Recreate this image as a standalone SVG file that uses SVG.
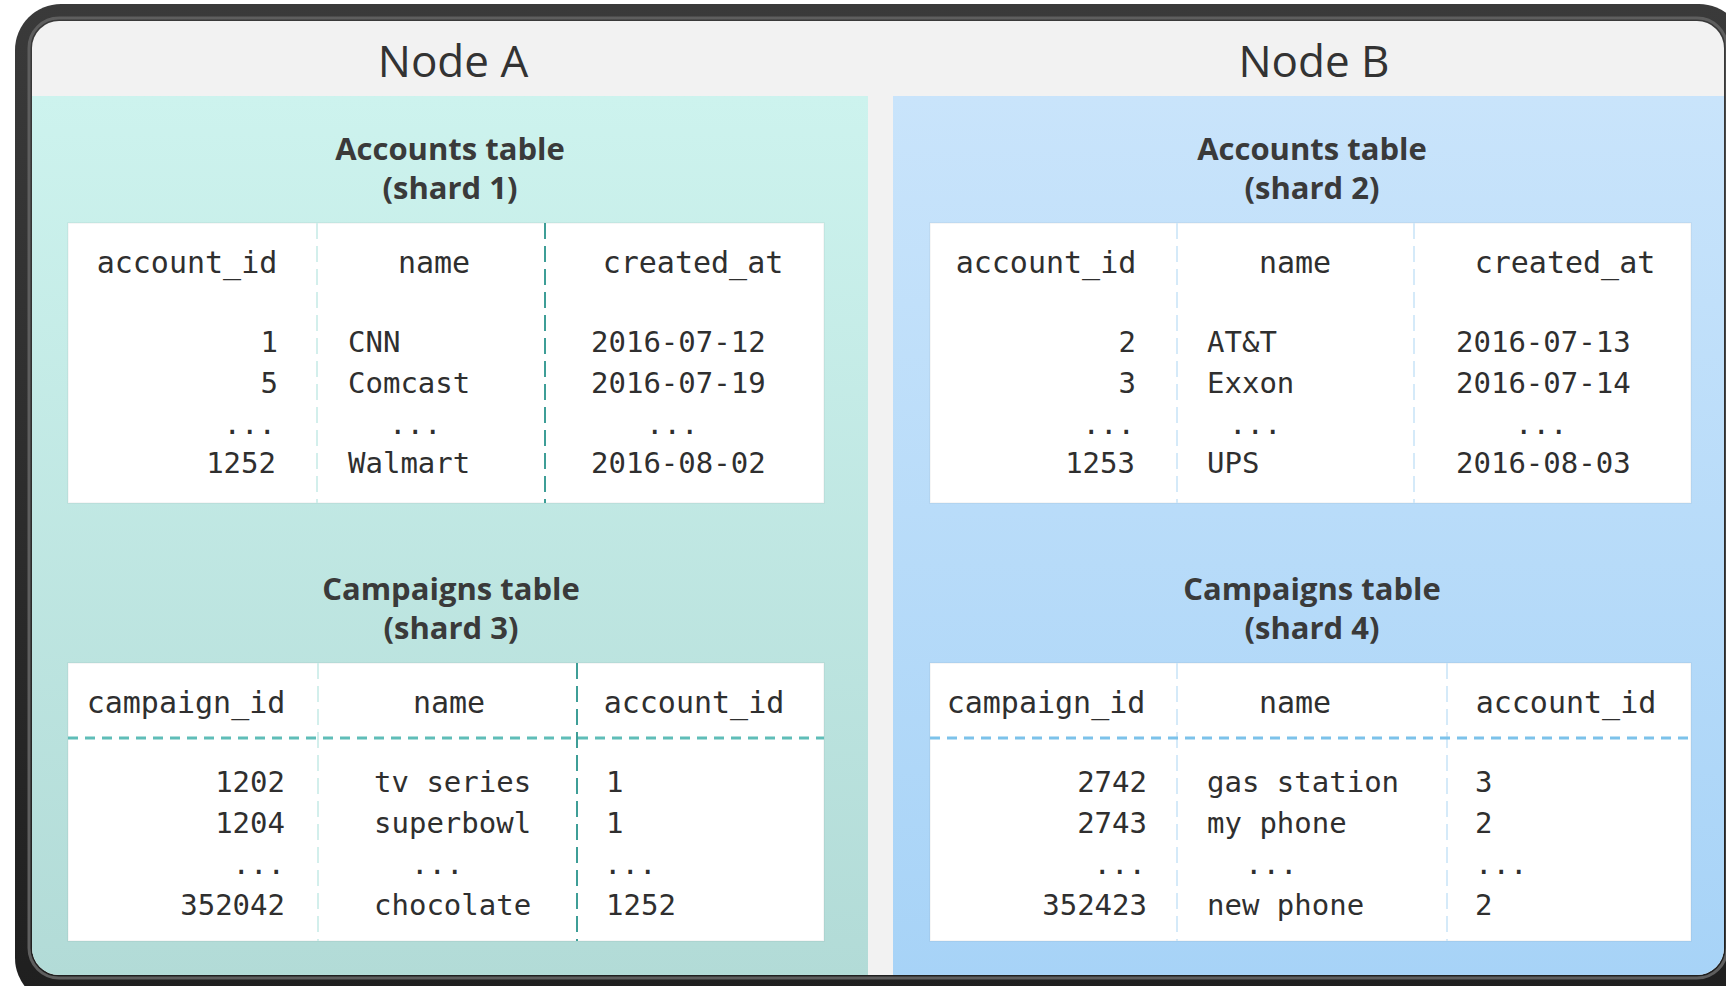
<svg xmlns="http://www.w3.org/2000/svg" width="1726" height="986" viewBox="0 0 1726 986">
  <defs>
    <linearGradient id="gradA" x1="0" y1="0" x2="0" y2="1">
      <stop offset="0" stop-color="#cdf3ee"/>
      <stop offset="1" stop-color="#b2dbd7"/>
    </linearGradient>
    <linearGradient id="gradB" x1="0" y1="0" x2="0" y2="1">
      <stop offset="0" stop-color="#c9e4fb"/>
      <stop offset="1" stop-color="#a7d3f7"/>
    </linearGradient>
    <linearGradient id="rim" x1="0" y1="0" x2="0" y2="1">
      <stop offset="0" stop-color="#3a3a3a"/>
      <stop offset="1" stop-color="#1f1f1f"/>
    </linearGradient>
    <clipPath id="inner">
      <rect x="32" y="21" width="1692" height="954" rx="27" ry="27"/>
    </clipPath>
  </defs>
  <style>
    .node-title { font-family: "Open Sans", "Noto Sans", sans-serif; font-size: 44px; fill: #333333; text-anchor: middle; }
    .tbl-title { font-family: "Open Sans", "Noto Sans", sans-serif; font-size: 31px; font-weight: 700; fill: #3a3a3a; text-anchor: middle; }
    .hdr { font-family: "DejaVu Sans Mono", "Liberation Mono", monospace; font-size: 30px; fill: #2f2f2f; text-anchor: middle; }
    .cell { font-family: "DejaVu Sans Mono", "Liberation Mono", monospace; font-size: 29px; fill: #2f2f2f; }
    .r { text-anchor: end; }
    .table { fill: #ffffff; stroke: #000000; stroke-opacity: 0.05; stroke-width: 1.5; }
    .div-faint-a { stroke: #d3efec; stroke-width: 2; stroke-dasharray: 16 7; fill: none; }
    .div-dark-a { stroke: #3e9e97; stroke-width: 2; stroke-dasharray: 16 7; fill: none; }
    .div-faint-b { stroke: #d5eaf9; stroke-width: 2; stroke-dasharray: 16 7; fill: none; }
    .rule-a { stroke: #5fbdb8; stroke-width: 3; stroke-dasharray: 10 7; fill: none; }
    .rule-b { stroke: #7cc2ea; stroke-width: 3; stroke-dasharray: 10 7; fill: none; }
  </style>

  <!-- page and outer frame -->
  <rect x="0" y="0" width="1726" height="986" fill="#ffffff"/>
  <rect x="15" y="4" width="1730" height="1000" rx="46" ry="46" fill="url(#rim)"/>
  <rect x="29" y="18" width="1698" height="960" rx="30" ry="30" fill="none" stroke="#5e5e5e" stroke-width="3"/>
  <rect x="32" y="21" width="1692" height="954" rx="27" ry="27" fill="#f2f2f2"/>

  <g clip-path="url(#inner)">
    <!-- Node A -->
    <g id="node-a">
      <rect x="32" y="96" width="836" height="882" fill="url(#gradA)"/>
      <text class="node-title" x="453" y="77">Node A</text>

      <g id="accounts-shard-1">
        <text class="tbl-title" x="450" y="160">Accounts table</text>
        <text class="tbl-title" x="450" y="199">(shard 1)</text>
        <rect class="table" x="68" y="223" width="756" height="280"/>
        <line class="div-faint-a" x1="317" y1="223" x2="317" y2="503"/>
        <line class="div-dark-a" x1="545" y1="223" x2="545" y2="503"/>
        <text class="hdr" x="187" y="273">account_id</text>
        <text class="hdr" x="434" y="273">name</text>
        <text class="hdr" x="693" y="273">created_at</text>
        <text class="cell r" x="278" y="352">1</text>
        <text class="cell r" x="278" y="393">5</text>
        <text class="cell r" x="276" y="434">...</text>
        <text class="cell r" x="276" y="473">1252</text>
        <text class="cell" x="348" y="352">CNN</text>
        <text class="cell" x="348" y="393">Comcast</text>
        <text class="cell" x="389" y="434">...</text>
        <text class="cell" x="348" y="473">Walmart</text>
        <text class="cell" x="591" y="352">2016-07-12</text>
        <text class="cell" x="591" y="393">2016-07-19</text>
        <text class="cell" x="646" y="434">...</text>
        <text class="cell" x="591" y="473">2016-08-02</text>
      </g>

      <g id="campaigns-shard-3">
        <text class="tbl-title" x="451" y="600">Campaigns table</text>
        <text class="tbl-title" x="451" y="639">(shard 3)</text>
        <rect class="table" x="68" y="663" width="756" height="278"/>
        <line class="div-faint-a" x1="318" y1="663" x2="318" y2="941"/>
        <line class="div-dark-a" x1="577" y1="663" x2="577" y2="941"/>
        <line class="rule-a" x1="68" y1="738" x2="824" y2="738"/>
        <text class="hdr" x="186" y="713">campaign_id</text>
        <text class="hdr" x="449" y="713">name</text>
        <text class="hdr" x="694" y="713">account_id</text>
        <text class="cell r" x="285" y="792">1202</text>
        <text class="cell r" x="285" y="833">1204</text>
        <text class="cell r" x="285" y="874">...</text>
        <text class="cell r" x="285" y="915">352042</text>
        <text class="cell" x="374" y="792">tv series</text>
        <text class="cell" x="374" y="833">superbowl</text>
        <text class="cell" x="411" y="874">...</text>
        <text class="cell" x="374" y="915">chocolate</text>
        <text class="cell" x="606" y="792">1</text>
        <text class="cell" x="606" y="833">1</text>
        <text class="cell" x="604" y="874">...</text>
        <text class="cell" x="606" y="915">1252</text>
      </g>
    </g>

    <!-- Node B -->
    <g id="node-b">
      <rect x="893" y="96" width="840" height="882" fill="url(#gradB)"/>
      <text class="node-title" x="1314" y="77">Node B</text>

      <g id="accounts-shard-2">
        <text class="tbl-title" x="1312" y="160">Accounts table</text>
        <text class="tbl-title" x="1312" y="199">(shard 2)</text>
        <rect class="table" x="930" y="223" width="761" height="280"/>
        <line class="div-faint-b" x1="1177" y1="223" x2="1177" y2="503"/>
        <line class="div-faint-b" x1="1414" y1="223" x2="1414" y2="503"/>
        <text class="hdr" x="1046" y="273">account_id</text>
        <text class="hdr" x="1295" y="273">name</text>
        <text class="hdr" x="1565" y="273">created_at</text>
        <text class="cell r" x="1136" y="352">2</text>
        <text class="cell r" x="1136" y="393">3</text>
        <text class="cell r" x="1135" y="434">...</text>
        <text class="cell r" x="1135" y="473">1253</text>
        <text class="cell" x="1207" y="352">AT&amp;T</text>
        <text class="cell" x="1207" y="393">Exxon</text>
        <text class="cell" x="1229" y="434">...</text>
        <text class="cell" x="1207" y="473">UPS</text>
        <text class="cell" x="1456" y="352">2016-07-13</text>
        <text class="cell" x="1456" y="393">2016-07-14</text>
        <text class="cell" x="1515" y="434">...</text>
        <text class="cell" x="1456" y="473">2016-08-03</text>
      </g>

      <g id="campaigns-shard-4">
        <text class="tbl-title" x="1312" y="600">Campaigns table</text>
        <text class="tbl-title" x="1312" y="639">(shard 4)</text>
        <rect class="table" x="930" y="663" width="761" height="278"/>
        <line class="div-faint-b" x1="1177" y1="663" x2="1177" y2="941"/>
        <line class="div-faint-b" x1="1447" y1="663" x2="1447" y2="941"/>
        <line class="rule-b" x1="930" y1="738" x2="1691" y2="738"/>
        <text class="hdr" x="1046" y="713">campaign_id</text>
        <text class="hdr" x="1295" y="713">name</text>
        <text class="hdr" x="1566" y="713">account_id</text>
        <text class="cell r" x="1147" y="792">2742</text>
        <text class="cell r" x="1147" y="833">2743</text>
        <text class="cell r" x="1146" y="874">...</text>
        <text class="cell r" x="1147" y="915">352423</text>
        <text class="cell" x="1207" y="792">gas station</text>
        <text class="cell" x="1207" y="833">my phone</text>
        <text class="cell" x="1245" y="874">...</text>
        <text class="cell" x="1207" y="915">new phone</text>
        <text class="cell" x="1475" y="792">3</text>
        <text class="cell" x="1475" y="833">2</text>
        <text class="cell" x="1475" y="874">...</text>
        <text class="cell" x="1475" y="915">2</text>
      </g>
    </g>
  </g>
</svg>
